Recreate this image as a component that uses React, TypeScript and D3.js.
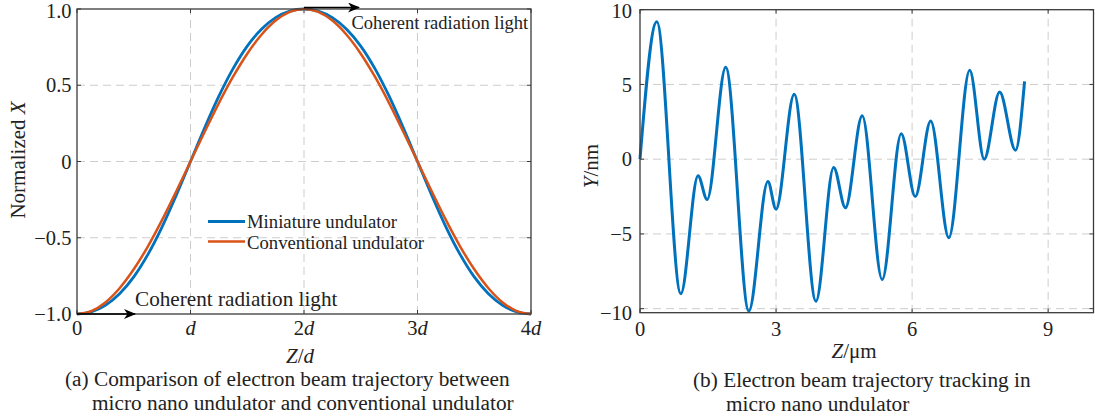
import React from "react";
import * as d3 from "d3";

// ---------- Data ----------
// Panel (a): Z in units of d
const zA = [0, 0.125, 0.25, 0.375, 0.5, 0.625, 0.75, 0.875, 1, 1.125, 1.25, 1.375, 1.5, 1.625, 1.75, 1.875, 2,
  2.125, 2.25, 2.375, 2.5, 2.625, 2.75, 2.875, 3, 3.125, 3.25, 3.375, 3.5, 3.625, 3.75, 3.875, 4];
const miniatureX = [-1, -0.986, -0.943, -0.867, -0.757, -0.609, -0.428, -0.221, 0, 0.221, 0.428, 0.609, 0.757, 0.867, 0.943, 0.986, 1,
  0.986, 0.943, 0.867, 0.757, 0.609, 0.428, 0.221, 0, -0.221, -0.428, -0.609, -0.757, -0.867, -0.943, -0.986, -1];
const conventionalX = [-1, -0.981, -0.924, -0.831, -0.707, -0.556, -0.383, -0.195, 0, 0.195, 0.383, 0.556, 0.707, 0.831, 0.924, 0.981, 1,
  0.981, 0.924, 0.831, 0.707, 0.556, 0.383, 0.195, 0, -0.195, -0.383, -0.556, -0.707, -0.831, -0.924, -0.981, -1];
const xTicksA = [0, 1, 2, 3, 4];
const xTickLabelsA = ["0", "d", "2d", "3d", "4d"];
const yTicksA = [-1, -0.5, 0, 0.5, 1];
const yTickLabelsA = ["\u22121.0", "\u22120.5", "0", "0.5", "1.0"];

// Panel (b): Z in µm, Y in nm
const zB = [0, 0.37, 0.9, 1.28, 1.48, 1.89, 2.4, 2.82, 3.0, 3.4, 3.88, 4.27, 4.53, 4.9, 5.34, 5.76, 6.07, 6.41, 6.81, 7.27, 7.59, 7.93, 8.28, 8.48];
const yB = [0, 9.2, -9.0, -1.1, -2.7, 6.15, -10.15, -1.5, -3.35, 4.35, -9.5, -0.55, -3.25, 2.9, -8.05, 1.7, -2.5, 2.55, -5.25, 5.95, 0.0, 4.5, 0.6, 5.2];
const xTicksB = [0, 3, 6, 9];
const yTicksB = [-10, -5, 0, 5, 10];
const yTickLabelsB = ["\u221210", "\u22125", "0", "5", "10"];

const BLUE = "#0072BD";
const RED = "#D95319";
const AXIS = "#3a3a3a";
const GRID = "#cdcdcd";
const FONT = "'Liberation Serif', 'Times New Roman', serif";

function Frame({ x, y }: { x: d3.ScaleLinear<number, number>; y: d3.ScaleLinear<number, number> }) {
  const [x0, x1] = x.range();
  const [y0, y1] = y.range(); // y0 bottom, y1 top
  return (
    <rect x={x0} y={y1} width={x1 - x0} height={y0 - y1} fill="none" stroke={AXIS} strokeWidth={1.3} />
  );
}

export default function App() {
  // Panel (a) scales
  const xa = d3.scaleLinear().domain([0, 4]).range([77, 531]);
  const ya = d3.scaleLinear().domain([-1, 1]).range([314, 9]);
  // Panel (b) scales
  const xb = d3.scaleLinear().domain([0, 10]).range([640, 1093.5]);
  const yb = d3.scaleLinear().domain([-10.27, 10]).range([312.7, 9.7]);

  const lineA = (vals: number[]) =>
    d3.line<number>().x((_, i) => xa(zA[i])).y((v) => ya(v)).curve(d3.curveMonotoneX)(vals) || "";
  const lineB =
    d3.line<number>().x((_, i) => xb(zB[i])).y((v) => yb(v)).curve(d3.curveMonotoneX)(yB) || "";

  const tick = 4;
  // keep top tick labels inside the picture
  const labelY = (v: number) => Math.max(v, 11);

  return (
    <svg width={1095} height={420} style={{ position: "absolute", left: 0, top: 0, background: "#fff" }} fontFamily={FONT}>
      <defs>
        <marker id="arr" viewBox="0 0 12 10" refX="11" refY="5" markerWidth="12" markerHeight="10" markerUnits="userSpaceOnUse" orient="auto">
          <path d="M0,0 L12,5 L0,10 L3.5,5 Z" fill="#000" />
        </marker>
      </defs>

      {/* ---------------- Panel (a) ---------------- */}
      <g>
        {xTicksA.slice(1, -1).map((t) => (
          <line key={"gx" + t} x1={xa(t)} x2={xa(t)} y1={ya(-1)} y2={ya(1)} stroke={GRID} strokeDasharray="8,5" />
        ))}
        {yTicksA.slice(1, -1).map((t) => (
          <line key={"gy" + t} x1={xa(0)} x2={xa(4)} y1={ya(t)} y2={ya(t)} stroke={GRID} strokeDasharray="8,5" />
        ))}
        {xTicksA.map((t) => (
          <g key={"tx" + t}>
            <line x1={xa(t)} x2={xa(t)} y1={ya(-1)} y2={ya(-1) - tick} stroke={AXIS} />
            <line x1={xa(t)} x2={xa(t)} y1={ya(1)} y2={ya(1) + tick} stroke={AXIS} />
          </g>
        ))}
        {yTicksA.map((t) => (
          <g key={"ty" + t}>
            <line x1={xa(0)} x2={xa(0) + tick} y1={ya(t)} y2={ya(t)} stroke={AXIS} />
            <line x1={xa(4)} x2={xa(4) - tick} y1={ya(t)} y2={ya(t)} stroke={AXIS} />
          </g>
        ))}
        <path d={lineA(miniatureX)} fill="none" stroke={BLUE} strokeWidth={2.8} />
        <path d={lineA(conventionalX)} fill="none" stroke={RED} strokeWidth={2.5} />
        <Frame x={xa} y={ya} />
        {yTicksA.map((t, i) => (
          <text key={"yl" + t} x={71.5} y={labelY(ya(t))} dy="0.35em" textAnchor="end" fontSize={20.5} fill="#222">
            {yTickLabelsA[i]}
          </text>
        ))}
        {xTicksA.map((t, i) => {
          const lab = xTickLabelsA[i];
          const num = lab.replace("d", "");
          const hasD = lab.includes("d");
          return (
            <text key={"xl" + t} x={xa(t)} y={335} textAnchor="middle" fontSize={20.5} fill="#222">
              {num}
              {hasD && <tspan fontStyle="italic">d</tspan>}
            </text>
          );
        })}
        <text transform="translate(25,160) rotate(-90)" textAnchor="middle" fontSize={21} fill="#222">
          Normalized <tspan fontStyle="italic">X</tspan>
        </text>
        <text x={300} y={363} textAnchor="middle" fontSize={21} fill="#222">
          <tspan fontStyle="italic">Z</tspan>/<tspan fontStyle="italic">d</tspan>
        </text>
        <line x1={208} x2={245} y1={221.5} y2={221.5} stroke={BLUE} strokeWidth={2.8} />
        <line x1={208} x2={245} y1={241.5} y2={241.5} stroke={RED} strokeWidth={2.5} />
        <text x={247} y={228} fontSize={18.7} fill="#222">Miniature undulator</text>
        <text x={247} y={248.5} fontSize={18.7} fill="#222">Conventional undulator</text>
        <line x1={xa(2)} x2={359} y1={7.5} y2={7.5} stroke="#000" strokeWidth={1.5} markerEnd="url(#arr)" />
        <text x={351.5} y={28.5} fontSize={18.5} fill="#222">Coherent radiation light</text>
        <line x1={xa(0)} x2={135} y1={314} y2={314} stroke="#000" strokeWidth={1.5} markerEnd="url(#arr)" />
        <text x={135} y={306} fontSize={21.2} fill="#222">Coherent radiation light</text>
        <text x={65} y={386} fontSize={21.3} fill="#222">(a) Comparison of electron beam trajectory between</text>
        <text x={92} y={410} fontSize={21.3} fill="#222">micro nano undulator and conventional undulator</text>
      </g>

      {/* ---------------- Panel (b) ---------------- */}
      <g>
        {xTicksB.slice(1).map((t) => (
          <line key={"gbx" + t} x1={xb(t)} x2={xb(t)} y1={yb.range()[0]} y2={yb.range()[1]} stroke={GRID} strokeDasharray="8,5" />
        ))}
        {yTicksB.slice(0, -1).map((t) => (
          <line key={"gby" + t} x1={xb(0)} x2={xb(10)} y1={yb(t)} y2={yb(t)} stroke={GRID} strokeDasharray="8,5" />
        ))}
        {xTicksB.map((t) => (
          <g key={"tbx" + t}>
            <line x1={xb(t)} x2={xb(t)} y1={yb.range()[0]} y2={yb.range()[0] - tick} stroke={AXIS} />
            <line x1={xb(t)} x2={xb(t)} y1={yb.range()[1]} y2={yb.range()[1] + tick} stroke={AXIS} />
          </g>
        ))}
        {yTicksB.map((t) => (
          <g key={"tby" + t}>
            <line x1={xb(0)} x2={xb(0) + tick} y1={yb(t)} y2={yb(t)} stroke={AXIS} />
            <line x1={xb(10)} x2={xb(10) - tick} y1={yb(t)} y2={yb(t)} stroke={AXIS} />
          </g>
        ))}
        <path d={lineB} fill="none" stroke={BLUE} strokeWidth={3} strokeLinejoin="round" />
        <Frame x={xb} y={yb} />
        {yTicksB.map((t, i) => (
          <text key={"ybl" + t} x={632} y={i === 0 ? 313 : labelY(yb(t))} dy="0.35em" textAnchor="end" fontSize={20.5} fill="#222">
            {yTickLabelsB[i]}
          </text>
        ))}
        {xTicksB.map((t) => (
          <text key={"xbl" + t} x={xb(t)} y={336} textAnchor="middle" fontSize={20.5} fill="#222">
            {t}
          </text>
        ))}
        <text transform="translate(598,166) rotate(-90)" textAnchor="middle" fontSize={21} fill="#222">
          <tspan fontStyle="italic">Y</tspan>/nm
        </text>
        <text x={854} y={358} textAnchor="middle" fontSize={21} fill="#222">
          <tspan fontStyle="italic">Z</tspan>/μm
        </text>
        <text x={693} y={386.5} fontSize={21.3} fill="#222">(b) Electron beam trajectory tracking in</text>
        <text x={726} y={410.5} fontSize={21.3} fill="#222">micro nano undulator</text>
      </g>
    </svg>
  );
}
